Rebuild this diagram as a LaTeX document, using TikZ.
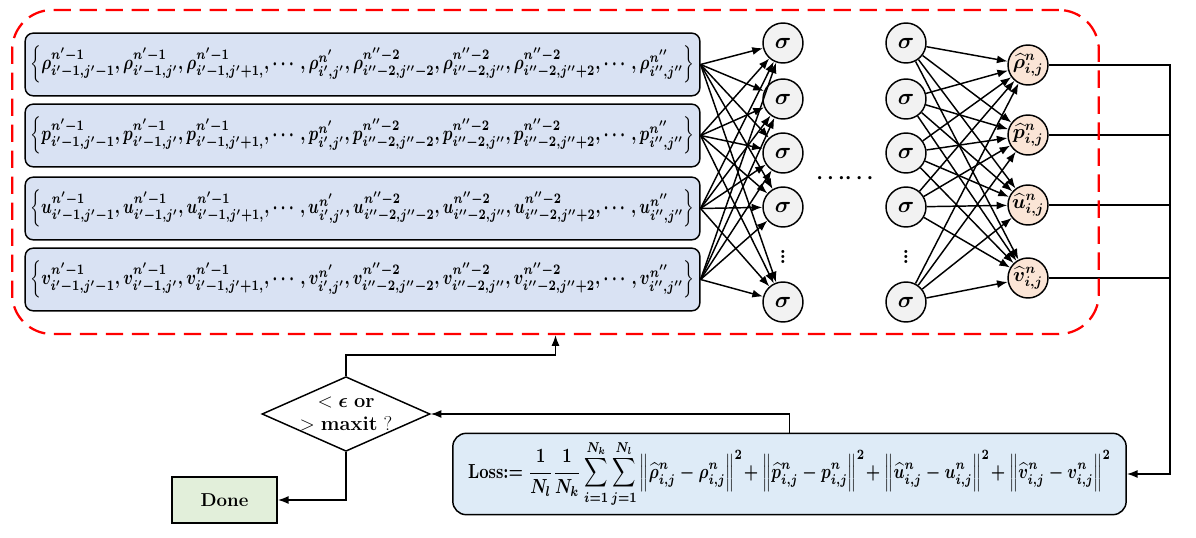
\RequirePackage{fix-cm}
\documentclass[tikz,border=0pt]{standalone}
\usepackage{amsmath,bm,graphicx}
\usetikzlibrary{arrows.meta,shapes.geometric,calc}
\definecolor{inblue}{HTML}{D9E2F3}
\definecolor{lossblue}{HTML}{DEEBF7}
\definecolor{donegreen}{HTML}{E2EFDA}
\definecolor{outpeach}{HTML}{FBE5D6}
\definecolor{neurongray}{HTML}{F2F2F2}
\newcommand{\myrow}[1]{\resizebox*{498pt}{28pt}{\boldmath$\left\{#1^{n'-1}_{i'-1,j'-1},#1^{n'-1}_{i'-1,j'},#1^{n'-1}_{i'-1,j'+1,},\cdots,#1^{n'}_{i',j'},#1^{n''-2}_{i''-2,j''-2},#1^{n''-2}_{i''-2,j''},#1^{n''-2}_{i''-2,j''+2},\cdots,#1^{n''}_{i'',j''}\right\}$}}
\newcommand{\mysig}{$\bm{\sigma}$}
\begin{document}
\begin{tikzpicture}[x=0.75pt,y=-0.75pt,
  inbox/.style={draw,line width=1.1pt,rounded corners=6pt,fill=inblue,minimum width=506pt,minimum height=47pt,inner sep=0pt},
  neuron/.style={circle,draw,line width=1.1pt,fill=neurongray,minimum size=30pt,inner sep=0pt,font=\fontsize{17}{19}\selectfont},
  outn/.style={neuron,fill=outpeach,font=\fontsize{15}{17}\selectfont},
  conn/.style={line width=1.1pt},
  arr/.style={conn,-{Latex[length=8pt,width=6pt]}},
]
\useasboundingbox (0,0) rectangle (1196,538);
% input boxes
\node[inbox] (in1) at (362.5,64.5) {\myrow{\rho}};
\node[inbox] (in2) at (362.5,135.5) {\myrow{p}};
\node[inbox] (in3) at (362.5,208.5) {\myrow{u}};
\node[inbox] (in4) at (362.5,279.5) {\myrow{v}};
% hidden layers
\node[neuron] (h1) at (783,43) {\mysig};
\node[neuron] (h2) at (783,99) {\mysig};
\node[neuron] (h3) at (783,153) {\mysig};
\node[neuron] (h4) at (783,207) {\mysig};
\node[neuron] (h5) at (783,302) {\mysig};
\node[neuron] (g1) at (906,43) {\mysig};
\node[neuron] (g2) at (906,99) {\mysig};
\node[neuron] (g3) at (906,153) {\mysig};
\node[neuron] (g4) at (906,207) {\mysig};
\node[neuron] (g5) at (906,302) {\mysig};
\node[font=\fontsize{16}{18}\selectfont] (hd) at (783,253) {$\bm{\vdots}$};
\node[font=\fontsize{16}{18}\selectfont] (gd) at (906,253) {$\bm{\vdots}$};
\node[font=\fontsize{16}{18}\selectfont] (md) at (847,178) {$\bm{\cdots\cdots}$};
% outputs
\node[outn] (o1) at (1028,65) {$\bm{\widehat{\rho}^{n}_{i,j}}$};
\node[outn] (o2) at (1028,135) {$\bm{\widehat{p}^{n}_{i,j}}$};
\node[outn] (o3) at (1028,205) {$\bm{\widehat{u}^{n}_{i,j}}$};
\node[outn] (o4) at (1028,278) {$\bm{\widehat{v}^{n}_{i,j}}$};
% connections
\foreach \ii in {1,2,3,4}{
  \foreach \jj in {1,2,3,4,5}{
    \draw[arr] (in\ii.east) -- (h\jj);
    \draw[arr] (g\jj) -- (o\ii);
  }
}
% loss
\node[draw,line width=1.1pt,rounded corners=10pt,fill=lossblue,minimum width=505pt,minimum height=61pt,inner sep=0pt] (loss) at (789.5,474)
 {\resizebox*{482pt}{50pt}{\textbf{Loss}\boldmath$:=\dfrac{1}{N_l}\dfrac{1}{N_k}\displaystyle\sum_{i=1}^{N_k}\sum_{j=1}^{N_l}\left\|\widehat{\rho}^{n}_{i,j}-\rho^{n}_{i,j}\right\|^2\!+\left\|\widehat{p}^{n}_{i,j}-p^{n}_{i,j}\right\|^2\!+\left\|\widehat{u}^{n}_{i,j}-u^{n}_{i,j}\right\|^2\!+\left\|\widehat{v}^{n}_{i,j}-v^{n}_{i,j}\right\|^2$}};
% decision
\node[diamond,draw,line width=1.1pt,minimum width=126pt,minimum height=56pt,inner sep=0pt,aspect=2.25] (dia) at (346,414) {};
\node[align=center,font=\fontsize{15}{17}\selectfont,inner sep=0pt] (diat) at (dia.center) {$<\bm{\epsilon}$ \textbf{or}\\ $>$ \textbf{maxit} ?};
\node[draw,line width=1.1pt,fill=donegreen,minimum width=79pt,minimum height=34.5pt,inner sep=0pt,font=\fontsize{14}{16}\selectfont\bfseries] (done) at (224.5,500) {Done};
% output bus
\coordinate (bus) at ($(loss.east)+(43,0)$);
\draw[arr] (o1.east) -| (bus) -- (loss.east);
\draw[conn] (o2.east) -- (o2.east -| bus);
\draw[conn] (o3.east) -- (o3.east -| bus);
\draw[conn] (o4.east) -- (o4.east -| bus);
% red frame
\node[draw=red,line width=1.7pt,dash pattern=on 13pt off 6.5pt,rounded corners=30pt,minimum width=815pt,minimum height=243pt,inner sep=0pt] (frame) at (555.5,172) {};
% flow arrows
\draw[arr] (loss.north) |- (dia.east);
\draw[arr] (dia.north) -- ++(0,-21) -| (frame.south);
\draw[arr] (dia.south) |- (done.east);
\end{tikzpicture}
\end{document}
